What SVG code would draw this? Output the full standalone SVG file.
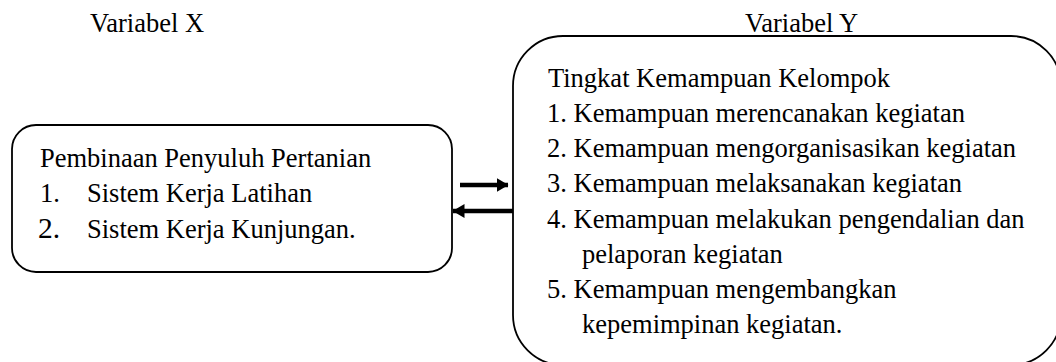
<svg xmlns="http://www.w3.org/2000/svg" width="1056" height="362" viewBox="0 0 1056 362">
<style>
text{font-family:'Liberation Serif','DejaVu Serif',serif;font-size:26.5px;fill:#000}
text.big{font-size:29.5px}
.box{fill:#fff;stroke:#000;stroke-width:1.8}
.arr{stroke:#000;stroke-width:4.5;fill:none}
</style>
<defs>
<marker id="ah" viewBox="0 0 12 14" refX="11.5" refY="7" markerWidth="12" markerHeight="14" orient="auto" markerUnits="userSpaceOnUse">
<path d="M0,0 L12,7 L0,14 Z" fill="#000"/>
</marker>
</defs>
<rect width="1056" height="362" fill="#fff"/>
<g id="label-x"><text x="90" y="32">Variabel X</text></g>
<g id="label-y"><text x="745" y="32">Variabel Y</text></g>
<g id="node-x">
<rect class="box" x="12" y="125" width="440" height="147" rx="24"/>
<text x="40" y="167">Pembinaan Penyuluh Pertanian</text>
<text x="40" y="202">1.</text><text x="87" y="202">Sistem Kerja Latihan</text>
<text class="big" x="38" y="238">2.</text><text x="87" y="238">Sistem Kerja Kunjungan.</text>
</g>
<g id="node-y">
<rect class="box" x="513" y="36" width="548" height="329" rx="50"/>
<text x="548" y="87">Tingkat Kemampuan Kelompok</text>
<text x="547" y="122">1. Kemampuan merencanakan kegiatan</text>
<text x="547" y="157">2. Kemampuan mengorganisasikan kegiatan</text>
<text x="547" y="192">3. Kemampuan melaksanakan kegiatan</text>
<text x="547" y="228">4. Kemampuan melakukan pengendalian dan</text>
<text x="582" y="263">pelaporan kegiatan</text>
<text x="547" y="298">5. Kemampuan mengembangkan</text>
<text x="582" y="333">kepemimpinan kegiatan.</text>
</g>
<g id="connectors">
<line class="arr" x1="460" y1="185" x2="508" y2="185" marker-end="url(#ah)"/>
<line class="arr" x1="513" y1="211" x2="453" y2="211" marker-end="url(#ah)"/>
</g>
</svg>
